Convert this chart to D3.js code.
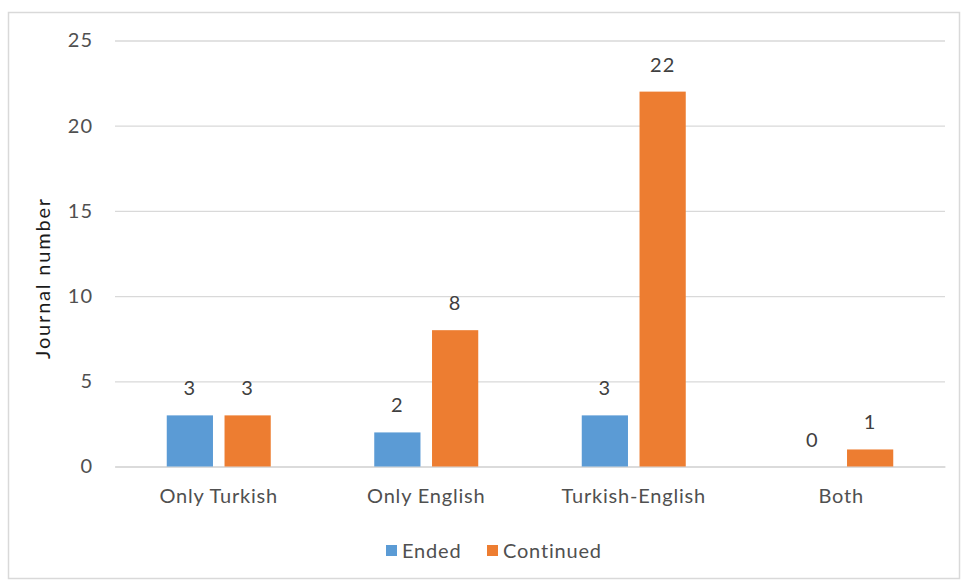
<!DOCTYPE html>
<html><head><meta charset="utf-8">
<script src="https://cdn.jsdelivr.net/npm/d3@7"></script>
<style>body{margin:0;background:#fff;} text{font-family:Lato,"Open Sans",sans-serif;}</style>
</head><body>
<svg id="c" width="962" height="583"></svg>
<script>
const categories = ["Only Turkish","Only English","Turkish-English","Both"];
const seriesNames = ["Ended","Continued"];
const ended = [3,2,3,0];
const continued = [3,8,22,1];
const yTicks = [0,5,10,15,20,25];
const colors = ["#5b9bd5","#ed7d31"];

const svg = d3.select("#c");
svg.append("rect").attr("x",8.5).attr("y",12.5).attr("width",951).attr("height",566)
  .attr("fill","#fff").attr("stroke","#d9d9d9").attr("stroke-width",1.5);

const pLeft=115,pRight=945,pTop=40.5,pBottom=466.5;
const x = d3.scaleBand().domain(categories).range([pLeft,pRight]);
const x1 = d3.scaleBand().domain(seriesNames).range([0,104]).paddingInner(0.2);
const y = d3.scaleLinear().domain([0,25]).range([pBottom,pTop]);

const g = svg.append("g");
const yAxis = d3.axisLeft(y).tickValues(yTicks).tickSize(-(pRight-pLeft)).tickPadding(22);
const ya = g.append("g").attr("transform",`translate(${pLeft},0)`).call(yAxis);
ya.select(".domain").remove();
ya.selectAll(".tick line").attr("stroke","#d9d9d9").attr("stroke-width",1.3);
ya.selectAll(".tick text").attr("fill","#505050").style("font-size","20px").attr("letter-spacing","1px");

const xa = g.append("g").attr("transform",`translate(0,${pBottom})`).call(d3.axisBottom(x).tickSize(0).tickPadding(22));
xa.select(".domain").attr("stroke","#d9d9d9").attr("stroke-width",1.3);
xa.selectAll(".tick text").attr("fill","#505050").style("font-size","20px").attr("letter-spacing","0.8px");

const data = categories.map((c,i)=>({c, vals:[ended[i],continued[i]]}));
const grp = g.selectAll(".grp").data(data).join("g")
  .attr("transform",d=>`translate(${x(d.c)+x.bandwidth()/2-52},0)`);
grp.selectAll("rect").data(d=>d.vals.map((v,j)=>({v,s:seriesNames[j],j}))).join("rect")
  .attr("x",d=>x1(d.s)).attr("width",x1.bandwidth())
  .attr("y",d=>y(d.v)).attr("height",d=>y(0)-y(d.v))
  .attr("fill",d=>colors[d.j]);
grp.selectAll("text").data(d=>d.vals.map((v,j)=>({v,s:seriesNames[j],j}))).join("text")
  .attr("x",d=>x1(d.s)+x1.bandwidth()/2).attr("y",d=>y(d.v)-20)
  .attr("text-anchor","middle").attr("fill","#404040").style("font-size","20px").attr("letter-spacing","1px")
  .text(d=>d.v);

svg.append("text").attr("transform","translate(50,278) rotate(-90)")
  .attr("text-anchor","middle").attr("fill","#1a1a1a").style("font-size","20px").attr("letter-spacing","1.8px").text("Journal number");

const leg = svg.append("g");
const legItems = [{n:"Ended",x:386},{n:"Continued",x:487}];
legItems.forEach((d,i)=>{
  leg.append("rect").attr("x",d.x).attr("y",545).attr("width",11).attr("height",11).attr("fill",colors[i]);
  leg.append("text").attr("x",d.x+16).attr("y",558).attr("fill","#505050").style("font-size","20px").attr("letter-spacing","0.8px").text(d.n);
});
</script>
</body></html>
